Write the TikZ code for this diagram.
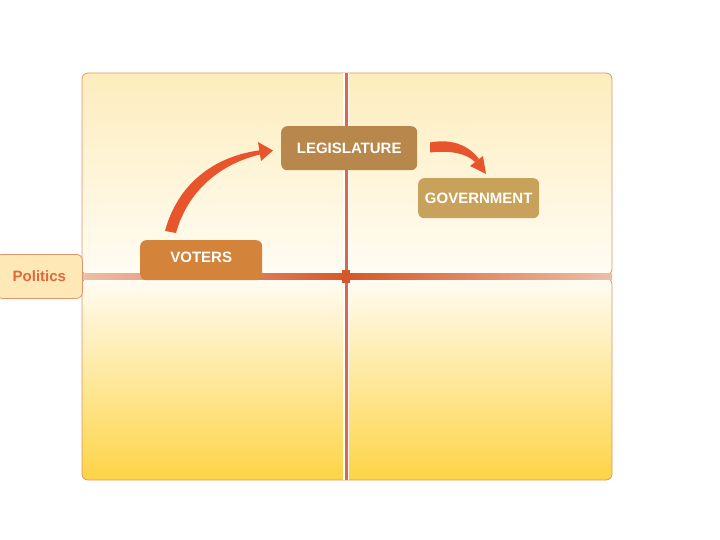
\documentclass[tikz,border=0pt]{standalone}
\usepackage{fontspec}
\setmainfont{Liberation Sans}
\usetikzlibrary{arrows.meta,calc}
\definecolor{pantop}{HTML}{FDEDBD}
\definecolor{panmid}{HTML}{FFFCF4}
\definecolor{panbot}{HTML}{FDD446}
\definecolor{panedge}{HTML}{E0946A}
\definecolor{linered}{HTML}{D5582C}
\definecolor{vline}{HTML}{D9684C}
\definecolor{votersc}{HTML}{D4843A}
\definecolor{legisc}{HTML}{B8874C}
\definecolor{govc}{HTML}{C8A15A}
\definecolor{arrowc}{HTML}{E8552C}
\definecolor{polfill}{HTML}{FDE8B6}
\definecolor{poltext}{HTML}{E0683A}
\tikzset{
  panel/.style={draw=panedge, line width=0.8pt, rounded corners=6pt},
  topic/.style={text=white, font=\fontsize{15}{15}\selectfont\bfseries, rounded corners=6pt, inner sep=0pt, align=center},
  taper/.style={fill=arrowc}
}
\begin{document}
\begin{tikzpicture}[x=1pt,y=-1pt]
\useasboundingbox (0,0) rectangle (720,540);
% panels
\path[panel, top color=pantop, bottom color=panmid] (82,73) rectangle (612,275);
\path[panel, top color=panmid, bottom color=panbot] (82,278) rectangle (612,480);
% vertical line
\fill[white] (343,73) rectangle (349,480);
\draw[vline, line width=2.2pt] (346.5,73) -- (346.5,480);
% horizontal line
\shade[left color=panedge!60, right color=panedge!60, middle color=linered] (82,273.5) rectangle (612,279);
\fill[linered] (342,270) rectangle (350,283);
% politics
\node[draw=panedge, fill=polfill, rounded corners=6pt, line width=0.8pt, minimum width=86pt, minimum height=44pt, anchor=north west, text=poltext, font=\fontsize{15}{15}\selectfont\bfseries] (pol) at (-4,254) {Politics};
% topics
\node[topic, fill=votersc, minimum width=122pt, minimum height=40pt, anchor=north west, text depth=0pt] (voters) at (140,240) {\raisebox{5pt}{VOTERS}};
\fill[votersc] (140,262) rectangle (262,274);
\node[topic, fill=legisc, minimum width=136pt, minimum height=44pt, anchor=north west] (legis) at (281,126) {LEGISLATURE};
\node[topic, fill=govc, minimum width=121pt, minimum height=40pt, anchor=north west] (gov) at (418,178) {GOVERNMENT};
% tapered arrows
\fill[taper] (165,231) .. controls (177,186) and (212,156) .. (262,150) -- (262,154) .. controls (218,164) and (187,193) .. (176,233) -- cycle;
\fill[taper] (258,142) -- (273,150.5) -- (261,161) -- cycle;
\fill[taper] (430,142.5) .. controls (454,138) and (470,147) .. (479,159) -- (475,162) .. controls (467,154) and (452,150) .. (430,152.5) -- cycle;
\fill[taper] (470,166) -- (483,156) -- (486,174) -- cycle;
\end{tikzpicture}
\end{document}
